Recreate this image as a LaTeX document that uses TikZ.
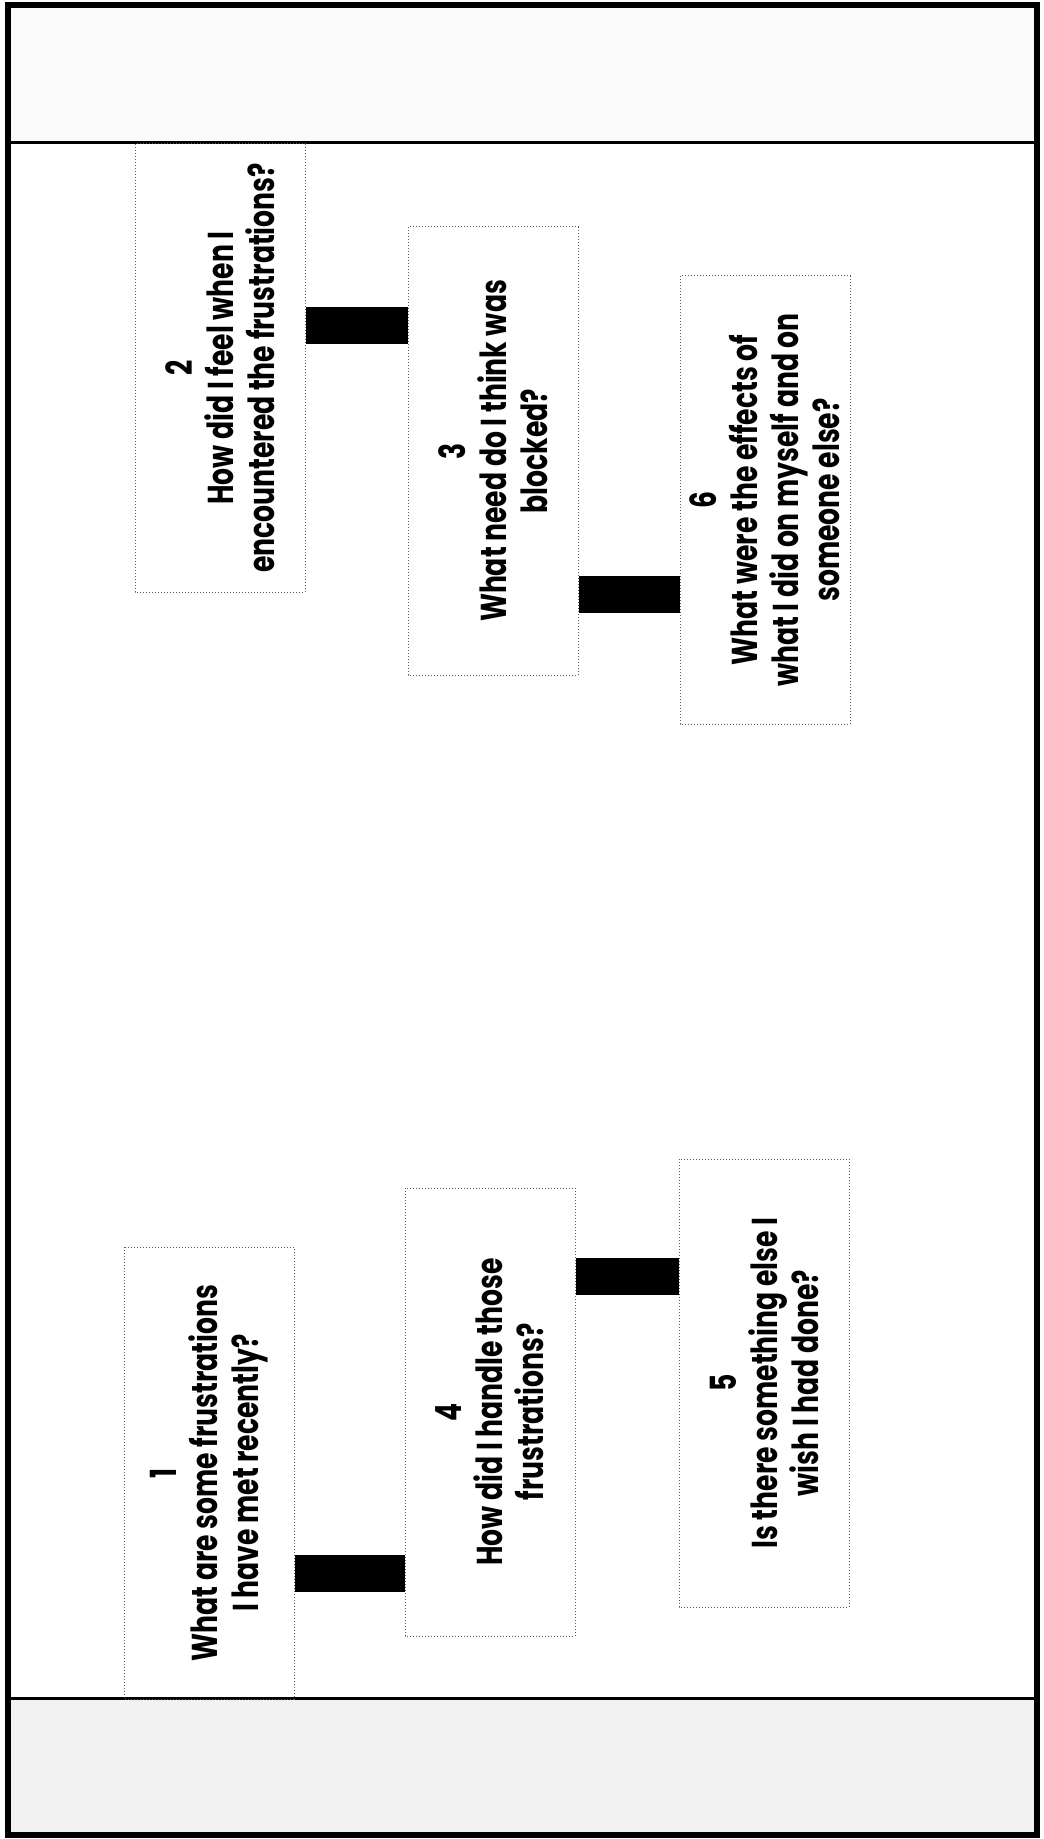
\documentclass[tikz,border=0pt]{standalone}
\usepackage{fontspec}
\setmainfont{Poppins}[FakeStretch=0.74]
\usetikzlibrary{positioning}

\begin{document}
\begin{tikzpicture}[x=0.5pt,y=-0.5pt]
  % 定义样式
  \tikzset{question/.style = {draw=black!65, densely dotted, line width=0.5pt, rotate=90,
      minimum width=224pt, minimum height=85pt, inner sep=0pt, align=center,
      font=\bfseries\fontsize{18}{20.5}\selectfont}}
  \tikzset{bar/.style = {draw=black, line width=18.5pt}}
  \tikzset{frame/.style = {draw=black, line width=3pt}}
  \tikzset{band/.style = {draw=black, line width=1.5pt}}

  \useasboundingbox (0,0) rectangle (1043,1839);

  % 定义边框
  \fill[black!5] (8,1698) rectangle (1037,1835);
  \fill[black!2] (8,5) rectangle (1037,143);
  \draw[band] (8,143) -- (1037,143);
  \draw[band] (8,1698) -- (1037,1698);
  \draw[frame] (8,5) rectangle (1037,1835);

  % 定义问题框
  \node[question, minimum width=226pt] (q1) at (209,1473) {1\\What are some frustrations\\I have met recently?};
  \node[question] (q2) at (220,368) {2\\How did I feel when I\\encountered the frustrations?};
  \node[question] (q3) at (493,451) {3\\What need do I think was\\blocked?};
  \node[question] (q4) at (490,1412) {4\\How did I handle those\\frustrations?};
  \node[question] (q5) at (764,1383) {5\\Is there something else I\\wish I had done?};
  \node[question] (q6) at (765,500) {6\\What were the effects of\\what I did on myself and on\\someone else?};

  % 定义连线
  \draw[bar] (q1.south |- 0,1573) -- (q4.north |- 0,1573);
  \draw[bar] (q2.south |- 0,326) -- (q3.north |- 0,326);
  \draw[bar] (q3.south |- 0,594) -- (q6.north |- 0,594);
  \draw[bar] (q4.south |- 0,1276) -- (q5.north |- 0,1276);
\end{tikzpicture}
\end{document}
